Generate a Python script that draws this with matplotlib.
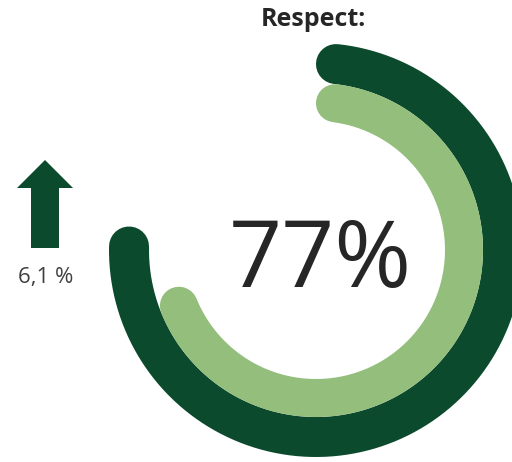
import numpy as np
import matplotlib
matplotlib.use("Agg")
import matplotlib.pyplot as plt

plt.rcParams['font.family'] = ['Open Sans', 'DejaVu Sans']

title = "Respect:"
score = 77.0          # current year, %
change = 6.1          # change vs. previous year, percentage points
rings = [score, score - change]
ring_colors = ["#0B4A2C", "#93BE7B"]

fig = plt.figure(figsize=(5.12, 4.62), dpi=100)
ax = fig.add_axes([0, 0, 1, 1])
ax.set_xlim(0, 512)
ax.set_ylim(462, 0)
ax.set_aspect("equal")
ax.axis("off")

cx, cy = 316, 250
radii = [187, 148]
widths = [40, 38]
px2pt = 72 / fig.dpi

for value, r, w, color in zip(rings, radii, widths, ring_colors):
    # rounded ends eat into the span, so shorten the centre line by the cap
    cap = np.degrees((w / 2) / r)
    theta = np.radians(np.linspace(cap, value / 100 * 360 - cap, 400))
    x = cx + r * np.sin(theta)
    y = cy - r * np.cos(theta)
    ax.plot(x, y, color=color, lw=w * px2pt, solid_capstyle="round")

ax.text(cx + 4, cy + 13, f"{score:.0f}%", fontsize=67, color="#262626",
        ha="center", va="center")
ax.text(313, 19, title, fontsize=18, fontweight="bold", color="#262626",
        ha="center", va="center")

# up arrow for the year-on-year change
ax.arrow(45, 248, 0, -88, width=28, head_width=56, head_length=28,
         length_includes_head=True, color=ring_colors[0], lw=0)
ax.text(46, 277, f"{change:.1f} %".replace(".", ","), fontsize=16,
        color="#404040", ha="center", va="center")

fig.savefig("out.png", dpi=100)
